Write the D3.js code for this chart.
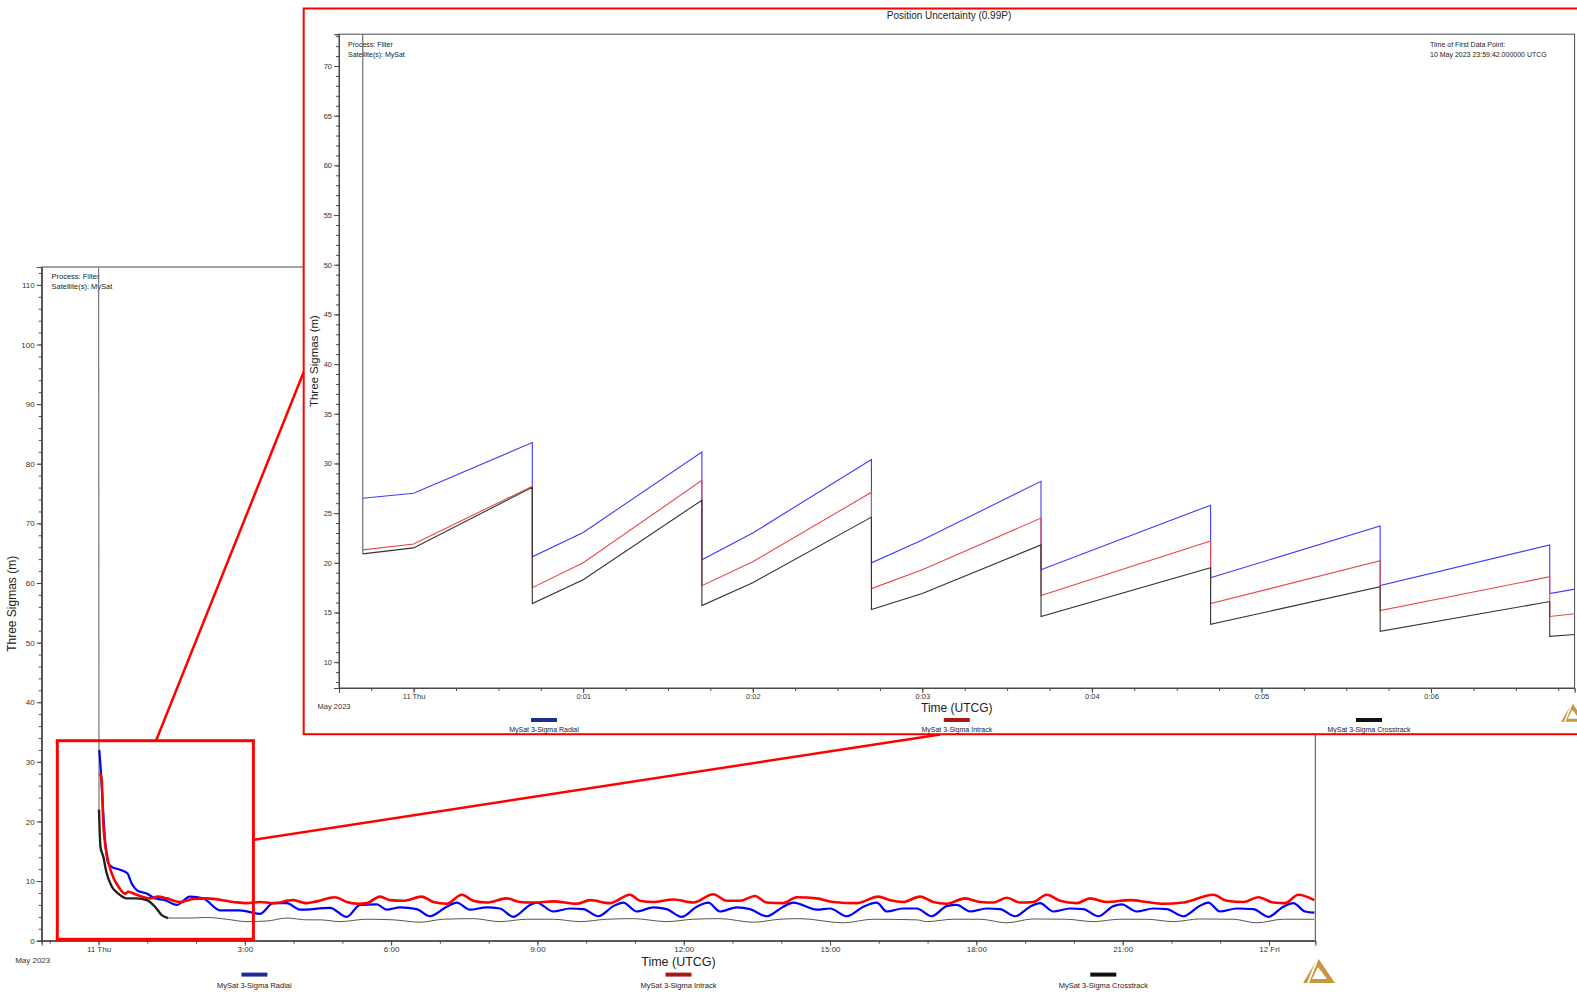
<!DOCTYPE html>
<html><head><meta charset="utf-8">
<script src="https://cdn.jsdelivr.net/npm/d3@7"></script>
<style>
body{margin:0;background:#fff;}
svg{display:block;font-family:"Liberation Sans",Arial,sans-serif;}
</style>
</head><body>
<svg id="c" width="1577" height="992"></svg>
<script>
// ---------------- DATA ----------------
const seriesNames = ["MySat 3-Sigma Radial", "MySat 3-Sigma Intrack", "MySat 3-Sigma Crosstrack"];
const lineColors = ["#0000ff", "#ff0000", "#222222"];
const insetColors = ["#3b3bff", "#e8474b", "#333333"];
const swatchColors = ["#1f2a99", "#a81818", "#111111"];
const yAxisTitle = "Three Sigmas (m)";
const xAxisTitle = "Time (UTCG)";
const insetTitle = "Position Uncertainty (0.99P)";
const headerLeft = ["Process: Filter", "Satellite(s): MySat"];
const headerRight = ["Time of First Data Point:", "10 May 2023 23:59:42.000000 UTCG"];
const monthLabel = "May 2023";

// main chart: [hours after 11 May 00:00 UTCG, metres]
const mainRadial = [[-0.005,200],[0.016,32.0],[0.051,28.1],[0.086,23.0],[0.133,16.9],[0.201,13.0],[0.271,12.4],[0.441,11.9],[0.591,11.3],[0.681,9.6],[0.783,8.5],[0.988,7.9],[1.158,7.1],[1.364,6.8],[1.603,6.0],[1.876,7.4],[2.149,7.1],[2.491,5.1],[2.901,5.1],[3.311,4.5],[3.584,6.3],[3.859,6.3],[4.132,5.2],[4.747,5.5],[5.089,4.0],[5.362,6.0],[5.704,6.1],[5.909,5.2],[6.182,5.6],[6.525,5.3],[6.797,4.1],[7.140,5.7],[7.345,6.4],[7.617,5.2],[7.960,5.6],[8.232,5.4],[8.505,4.0],[8.848,6.0],[8.985,6.4],[9.325,4.9],[9.668,5.4],[9.941,5.3],[10.248,4.1],[10.556,5.8],[10.761,6.4],[11.036,4.9],[11.376,5.6],[11.651,5.3],[11.958,4.0],[12.266,5.7],[12.503,6.4],[12.743,4.9],[13.086,5.6],[13.358,5.3],[13.701,4.1],[14.041,5.7],[14.246,6.4],[14.726,5.2],[14.999,5.4],[15.341,4.1],[15.682,5.7],[15.957,6.4],[16.162,4.9],[16.502,5.4],[16.777,5.4],[17.084,4.1],[17.392,5.8],[17.597,6.0],[17.870,4.9],[18.212,5.4],[18.485,5.3],[18.792,4.1],[19.100,5.7],[19.305,6.3],[19.578,4.9],[19.920,5.4],[20.193,5.3],[20.500,4.1],[20.808,5.8],[20.980,6.1],[21.288,4.9],[21.628,5.4],[21.903,5.3],[22.243,4.1],[22.551,5.7],[22.756,6.4],[22.995,4.9],[23.338,5.4],[23.678,5.3],[23.986,4.0],[24.294,5.7],[24.499,6.3],[24.739,4.9],[24.930,4.7]];
const mainIntrack = [[-0.005,200],[0.031,28.1],[0.066,26.9],[0.098,19.7],[0.168,14.6],[0.271,11.3],[0.406,9.1],[0.543,7.9],[0.611,8.2],[0.783,7.7],[1.056,7.1],[1.220,7.4],[1.398,7.1],[1.671,6.5],[1.938,7.0],[2.219,7.1],[2.758,6.5],[3.039,6.3],[3.311,6.5],[3.578,6.3],[3.988,6.8],[4.269,6.3],[4.474,6.6],[4.849,7.3],[5.089,6.5],[5.327,6.2],[5.499,6.3],[5.772,7.4],[5.977,6.8],[6.250,6.7],[6.627,7.4],[6.865,6.5],[7.140,6.2],[7.447,7.7],[7.685,6.7],[7.960,6.4],[8.370,7.1],[8.643,6.5],[8.915,6.4],[9.325,6.6],[9.805,6.2],[10.078,6.8],[10.488,6.3],[10.898,7.7],[11.103,6.7],[11.376,6.5],[11.786,6.9],[12.196,6.4],[12.606,7.8],[12.881,6.7],[13.153,6.7],[13.461,7.5],[13.701,6.4],[14.041,6.3],[14.316,7.3],[14.726,7.1],[15.067,6.5],[15.547,6.3],[15.989,7.4],[16.229,6.8],[16.502,6.5],[16.844,7.4],[17.117,6.5],[17.392,6.2],[17.767,7.1],[18.075,6.5],[18.347,6.4],[18.622,7.2],[18.895,6.4],[19.168,6.5],[19.442,7.7],[19.715,6.7],[20.057,6.3],[20.330,7.1],[20.673,6.5],[21.150,6.8],[21.493,6.5],[21.835,6.2],[22.245,6.4],[22.858,7.7],[23.133,6.7],[23.474,6.5],[23.781,7.3],[24.089,6.4],[24.329,6.3],[24.601,7.7],[24.930,6.8]];
const mainCrosstrack = [[-0.005,200],[0.010,22.0],[0.040,15.8],[0.098,14.1],[0.168,11.3],[0.271,9.1],[0.406,7.9],[0.578,7.1],[0.783,7.1],[0.988,6.8],[1.158,5.7],[1.296,4.3],[1.431,3.8],[1.876,3.8],[2.219,3.9],[2.629,3.6],[3.039,3.2],[3.449,3.3],[3.859,3.8],[4.269,3.5],[4.542,3.5],[4.952,3.2],[5.499,3.6],[6.045,3.5],[6.592,3.1],[7.070,3.6],[7.685,3.7],[8.232,3.2],[8.780,3.6],[9.325,3.6],[9.873,3.2],[10.420,3.6],[10.966,3.7],[11.651,3.2],[12.196,3.6],[12.743,3.7],[13.426,3.1],[13.973,3.6],[14.384,3.7],[15.272,3.0],[15.887,3.6],[16.777,3.5],[16.982,3.2],[17.527,3.6],[18.075,3.6],[18.622,3.0],[19.168,3.65],[19.852,3.6],[20.398,3.2],[20.945,3.6],[21.493,3.6],[22.038,3.2],[22.585,3.65],[23.269,3.6],[23.748,3.0],[24.294,3.6],[24.930,3.6]];

// inset: [seconds after 11 May 00:00:00 UTCG, metres]
const insetRadial = [[-18,1000],[-18,26.5],[0,27.0],[42,32.1],[42,20.6],[60,23.05],[102,31.15],[102,20.3],[120,23.0],[162,30.4],[162,20.0],[180,22.3],[222,28.2],[222,19.3],[282,25.8],[282,18.5],[342,23.7],[342,17.7],[402,21.8],[402,16.9],[412,17.4]];
const insetIntrack = [[-18,1000],[-18,21.3],[0,21.9],[42,27.7],[42,17.5],[60,20.0],[102,28.3],[102,17.7],[120,20.1],[162,27.1],[162,17.4],[180,19.3],[222,24.5],[222,16.7],[282,22.2],[282,15.9],[342,20.2],[342,15.2],[402,18.6],[402,14.6],[412,14.9]];
const insetCrosstrack = [[-18,1000],[-18,20.9],[0,21.5],[42,27.6],[42,15.9],[60,18.3],[102,26.3],[102,15.7],[120,18.0],[162,24.6],[162,15.3],[180,16.9],[222,21.8],[222,14.6],[282,19.5],[282,13.8],[342,17.6],[342,13.1],[402,16.1],[402,12.6],[412,12.8]];

// axis ticks
const mainYMajor = [0,10,20,30,40,50,60,70,80,90,100,110];
const mainYMinorStep = 2;
const mainXMajorHours = [0,3,6,9,12,15,18,21,24];
const insetYMajor = [10,15,20,25,30,35,40,45,50,55,60,65,70];
const insetXMajorSec = [0,60,120,180,240,300,360];

// ---------------- DRAW ----------------
const BASE = Date.UTC(2023, 4, 11, 0, 0, 0);
const hT = h => new Date(BASE + h * 3600000);
const sT = s => new Date(BASE + s * 1000);
const svg = d3.select("#c");
const AX = "#4a4a4a";

function fmtTime(d) {
  if (d.getUTCHours() === 0 && d.getUTCMinutes() === 0) return d3.utcFormat("%-d %a")(d);
  return d3.utcFormat("%-H:%M")(d);
}

function styleAxis(g, fs) {
  g.select(".domain").attr("stroke", AX);
  g.selectAll(".tick line").attr("stroke", AX);
  g.selectAll(".tick text").attr("fill", "#333").style("font-size", fs + "px");
}

// ===== Main chart =====
const M = {l: 41.7, r: 1315.3, t: 267, b: 940.7};
const xM = d3.scaleUtc().domain([hT(-1.1647), hT(24.95)]).range([M.l, M.r]);
const yM = d3.scaleLinear().domain([0, 113]).range([M.b, M.t]);

svg.append("clipPath").attr("id", "clipM").append("rect")
  .attr("x", M.l).attr("y", M.t).attr("width", M.r - M.l).attr("height", M.b - M.t);

svg.append("rect").attr("x", M.l).attr("y", M.t).attr("width", M.r - M.l).attr("height", M.b - M.t)
  .attr("fill", "none").attr("stroke", AX).attr("stroke-width", 1);

// y axis
svg.append("g").attr("transform", `translate(${M.l},0)`)
  .call(d3.axisLeft(yM).tickValues(d3.range(0, 113, mainYMinorStep)).tickSize(3).tickFormat(""))
  .call(g => { styleAxis(g, 8); });
svg.append("g").attr("transform", `translate(${M.l},0)`)
  .call(d3.axisLeft(yM).tickValues(mainYMajor).tickSize(5).tickPadding(2))
  .call(g => styleAxis(g, 8));
// x axis
svg.append("g").attr("transform", `translate(0,${M.b})`)
  .call(d3.axisBottom(xM).ticks(d3.utcHour.every(1)).tickSize(3).tickFormat(""))
  .call(g => styleAxis(g, 8));
svg.append("g").attr("transform", `translate(0,${M.b})`)
  .call(d3.axisBottom(xM).tickValues(mainXMajorHours.map(hT)).tickSize(5).tickPadding(1).tickFormat(fmtTime))
  .call(g => styleAxis(g, 8));

svg.append("text").attr("x", 32.7).attr("y", 963).attr("text-anchor", "middle")
  .style("font-size", "8px").attr("fill", "#333").text(monthLabel);
svg.append("text").attr("x", (M.l + M.r) / 2).attr("y", 966).attr("text-anchor", "middle")
  .style("font-size", "12.5px").attr("fill", "#222").text(xAxisTitle);
svg.append("text").attr("transform", `translate(16,${(M.t + M.b) / 2}) rotate(-90)`)
  .attr("text-anchor", "middle").style("font-size", "12px").attr("fill", "#222").text(yAxisTitle);

headerLeft.forEach((t, i) => svg.append("text").attr("x", 51.5).attr("y", 279 + i * 10)
  .style("font-size", "7.5px").attr("fill", "#222").text(t));

const lineM = d3.line().x(d => xM(hT(d[0]))).y(d => yM(d[1])).curve(d3.curveMonotoneX);
const gM = svg.append("g").attr("clip-path", "url(#clipM)");
// thin grey start line: the huge first filter value
gM.append("path").datum(mainCrosstrack.slice(0, 2)).attr("d", d3.line().x(d => xM(hT(d[0]))).y(d => yM(d[1])))
  .attr("fill", "none").attr("stroke", "#777").attr("stroke-width", 1.2);
gM.append("path").datum(mainRadial.slice(1)).attr("d", lineM).attr("fill", "none")
  .attr("stroke", lineColors[0]).attr("stroke-width", 2.2);
gM.append("path").datum(mainIntrack.slice(1)).attr("d", lineM).attr("fill", "none")
  .attr("stroke", lineColors[1]).attr("stroke-width", 2.6);
gM.append("path").datum(mainCrosstrack.slice(1).filter(d => d[0] <= 1.45)).attr("d", lineM).attr("fill", "none")
  .attr("stroke", lineColors[2]).attr("stroke-width", 2.4);
gM.append("path").datum(mainCrosstrack.filter(d => d[0] >= 1.43)).attr("d", lineM).attr("fill", "none")
  .attr("stroke", "#555").attr("stroke-width", 1);

// legend
function legend(cx, ySw, yTx, fs) {
  seriesNames.forEach((n, i) => {
    svg.append("rect").attr("x", cx[i] - 13).attr("y", ySw - 2).attr("width", 26).attr("height", 4)
      .attr("fill", swatchColors[i]);
    svg.append("text").attr("x", cx[i]).attr("y", yTx).attr("text-anchor", "middle")
      .style("font-size", fs + "px").attr("fill", "#222").text(n);
  });
}
legend([254.4, (M.l + M.r) / 2, 1103.3], 974.6, 987.5, 7.5);

// logo
function logo(x, y, s) {
  const g = svg.append("g").attr("transform", `translate(${x},${y}) scale(${s})`);
  g.append("path").attr("d", "M15,0 L32,25 L0,25 Z M15,9 L24,21 L9,21 Z")
    .attr("fill", "#c9963f").attr("fill-rule", "evenodd");
  g.append("path").attr("d", "M15,0 L5,25").attr("stroke", "#fff").attr("stroke-width", 2);
}
logo(1303, 958, 1);

// zoom box + connectors
svg.append("line").attr("x1", 155.9).attr("y1", 741).attr("x2", 303.7).attr("y2", 372)
  .attr("stroke", "#ff0000").attr("stroke-width", 2.5);
svg.append("line").attr("x1", 253.4).attr("y1", 839.8).attr("x2", 940.3).attr("y2", 734.5)
  .attr("stroke", "#ff0000").attr("stroke-width", 2.5);
svg.append("rect").attr("x", 57.3).attr("y", 740.7).attr("width", 253.4 - 57.3).attr("height", 939.3 - 740.7)
  .attr("fill", "none").attr("stroke", "#ff0000").attr("stroke-width", 3);

// ===== Inset =====
svg.append("rect").attr("x", 303.7).attr("y", 8.5).attr("width", 1400).attr("height", 734.2 - 8.5)
  .attr("fill", "#fff").attr("stroke", "#ff0000").attr("stroke-width", 2);

const I = {l: 339, r: 1574.6, t: 34.2, b: 688};
const xI = d3.scaleUtc().domain([sT(-26.4), sT(410.8)]).range([I.l, I.r]);
const yI = d3.scaleLinear().domain([7.4, 73.2]).range([I.b, I.t]);

svg.append("clipPath").attr("id", "clipI").append("rect")
  .attr("x", I.l).attr("y", I.t).attr("width", I.r - I.l).attr("height", I.b - I.t);
svg.append("rect").attr("x", I.l).attr("y", I.t).attr("width", I.r - I.l).attr("height", I.b - I.t)
  .attr("fill", "none").attr("stroke", AX).attr("stroke-width", 1);

svg.append("text").attr("x", 949).attr("y", 19).attr("text-anchor", "middle")
  .style("font-size", "10px").attr("fill", "#222").text(insetTitle);

svg.append("g").attr("transform", `translate(${I.l},0)`)
  .call(d3.axisLeft(yI).tickValues(d3.range(8, 74, 1)).tickSize(3).tickFormat(""))
  .call(g => styleAxis(g, 7.5));
svg.append("g").attr("transform", `translate(${I.l},0)`)
  .call(d3.axisLeft(yI).tickValues(insetYMajor).tickSize(5).tickPadding(2))
  .call(g => styleAxis(g, 7.5));
svg.append("g").attr("transform", `translate(0,${I.b})`)
  .call(d3.axisBottom(xI).ticks(d3.utcSecond.every(15)).tickSize(3).tickFormat(""))
  .call(g => styleAxis(g, 7.5));
svg.append("g").attr("transform", `translate(0,${I.b})`)
  .call(d3.axisBottom(xI).tickValues(insetXMajorSec.map(sT)).tickSize(5).tickPadding(1).tickFormat(fmtTime))
  .call(g => styleAxis(g, 7.5));

svg.append("text").attr("x", 334).attr("y", 708.5).attr("text-anchor", "middle")
  .style("font-size", "7.5px").attr("fill", "#333").text(monthLabel);
svg.append("text").attr("x", (I.l + I.r) / 2).attr("y", 712).attr("text-anchor", "middle")
  .style("font-size", "12px").attr("fill", "#222").text(xAxisTitle);
svg.append("text").attr("transform", `translate(318,${(I.t + I.b) / 2}) rotate(-90)`)
  .attr("text-anchor", "middle").style("font-size", "11.5px").attr("fill", "#222").text(yAxisTitle);

headerLeft.forEach((t, i) => svg.append("text").attr("x", 348).attr("y", 47 + i * 9.5)
  .style("font-size", "7px").attr("fill", "#222").text(t));
headerRight.forEach((t, i) => svg.append("text").attr("x", 1430).attr("y", 47 + i * 9.5)
  .style("font-size", "7px").attr("fill", "#222").text(t));

const lineI = d3.line().x(d => xI(sT(d[0]))).y(d => yI(d[1]));
const gI = svg.append("g").attr("clip-path", "url(#clipI)");
// grey start line from the huge first value
gI.append("path").datum(insetCrosstrack.slice(0, 2)).attr("d", lineI).attr("fill", "none")
  .attr("stroke", "#6e6e6e").attr("stroke-width", 1.2);
[insetRadial, insetIntrack, insetCrosstrack].forEach((s, i) => {
  gI.append("path").datum(s.slice(1)).attr("d", lineI).attr("fill", "none")
    .attr("stroke", insetColors[i]).attr("stroke-width", 1.1);
});

legend([544, (I.l + I.r) / 2, 1369], 720, 732, 7);
logo(1561, 703, 0.75);
</script>
</body></html>
